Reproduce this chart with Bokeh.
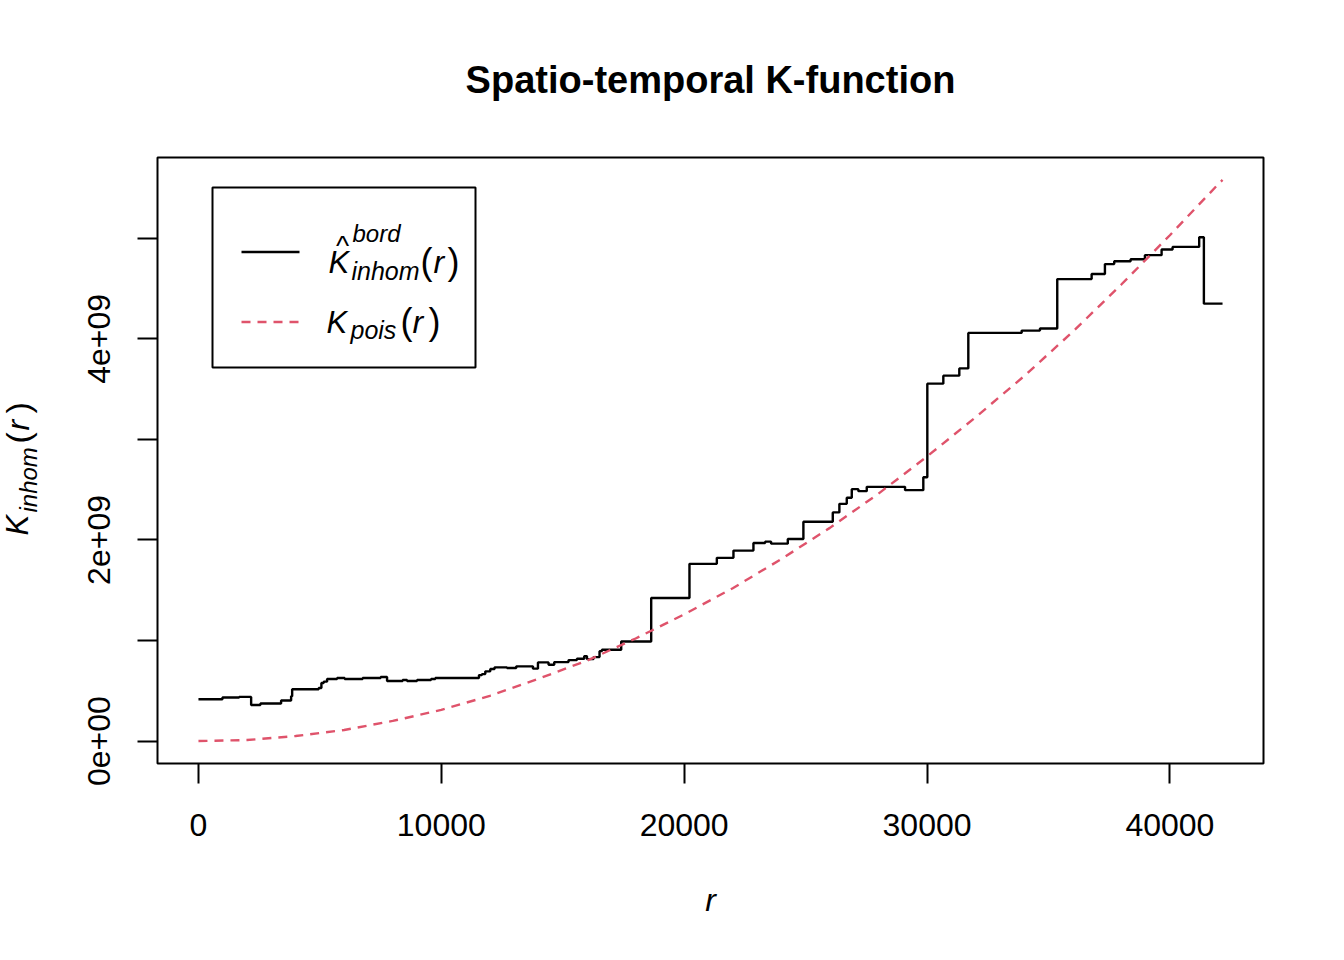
import math
from bokeh.plotting import figure
from bokeh.models import Range1d, FixedTicker, Label, BoxAnnotation, Arrow, LinearAxis
from bokeh.embed import file_html
from bokeh.resources import INLINE

# ---- data ----
# border-corrected inhomogeneous K estimate (step function), K in units of 1e9
r_bord = [0, 988, 1675, 2169, 2551, 3403, 3815, 3858, 4951, 5062,
          5156, 5296, 5708, 6021, 6761, 7502, 7766, 8408, 8589, 9000,
          9576, 9753, 11551, 11675, 11811, 12016, 12193, 12704, 13086, 13774,
          13979, 14416, 14650, 15239, 15584, 15885, 15996, 16268, 16515, 16613,
          17407, 18642, 20218, 21345, 22029, 22852, 23333, 23580, 24267, 24909,
          26119, 26391, 26695, 26901, 27173, 27518, 29095, 29847, 30012, 30671,
          31329, 31700, 33897, 34650, 35362, 36778, 37325, 37708, 38383, 38971,
          39659, 40111, 41206, 41400, 42168]
k_bord = [0.416, 0.433, 0.439, 0.359, 0.373, 0.403, 0.446, 0.515, 0.528, 0.577,
          0.591, 0.617, 0.627, 0.617, 0.627, 0.637, 0.597, 0.607, 0.597, 0.607,
          0.617, 0.627, 0.656, 0.666, 0.693, 0.716, 0.733, 0.726, 0.743, 0.720,
          0.782, 0.759, 0.785, 0.805, 0.819, 0.845, 0.815, 0.835, 0.894, 0.908,
          0.990, 1.423, 1.762, 1.822, 1.894, 1.970, 1.983, 1.963, 2.010, 2.181,
          2.274, 2.359, 2.419, 2.505, 2.485, 2.528, 2.495, 2.624, 3.554, 3.634,
          3.706, 4.059, 4.082, 4.102, 4.594, 4.644, 4.743, 4.772, 4.792, 4.832,
          4.888, 4.914, 5.010, 4.350, 4.350]

# theoretical Poisson K (dashed curve), K in units of 1e9
r_pois = [0, 2000, 4000, 6000, 8000, 10000, 12000, 14000, 16000, 18000,
          20000, 22000, 24000, 26000, 28000, 30000, 32000, 34000, 36000, 38000,
          40000, 42000, 42168]
k_pois = [0.00, 0.01, 0.05, 0.11, 0.20, 0.31, 0.45, 0.62, 0.80, 1.02,
          1.26, 1.52, 1.81, 2.12, 2.46, 2.83, 3.22, 3.63, 4.07, 4.54,
          5.03, 5.54, 5.58]

x_ticks = [0, 10000, 20000, 30000, 40000]
x_tick_labels = ["0", "10000", "20000", "30000", "40000"]
y_ticks = [0, 1, 2, 3, 4, 5]
y_tick_labels = ["0e+00", "", "2e+09", "", "4e+09", ""]

title_text = "Spatio-temporal K-function"

# ---- layout (R-style plot region with 4% padding of the data range) ----
FONT = "Liberation Sans"
RED = "#DF536B"
W, H = 1328, 944
BL, BR, BT, BB = 157, 1263, 157, 763      # plot box in canvas pixels
LW = 2.4

xmin, xmax = min(r_bord + r_pois), max(r_bord + r_pois)
ymin, ymax = min(k_bord + k_pois), max(k_bord + k_pois)
ux0, ux1 = xmin - 0.04 * (xmax - xmin), xmax + 0.04 * (xmax - xmin)
uy0, uy1 = ymin - 0.04 * (ymax - ymin), ymax + 0.04 * (ymax - ymin)
sx = (ux1 - ux0) / (BR - BL)
sy = (uy1 - uy0) / (BB - BT)

p = figure(width=W, height=H,
           x_range=Range1d(ux0 - BL * sx, ux1 + (W - BR) * sx),
           y_range=Range1d(uy0 - (H - BB) * sy, uy1 + BT * sy),
           output_backend="svg", toolbar_location=None,
           x_axis_location=None, y_axis_location=None, min_border=0)
p.title.visible = False
p.background_fill_color = "white"
p.border_fill_color = "white"
p.outline_line_color = None
p.xgrid.visible = False
p.ygrid.visible = False

xaxis = LinearAxis(fixed_location=uy0)
yaxis = LinearAxis(fixed_location=ux0)
p.add_layout(xaxis, "below")
p.add_layout(yaxis, "left")
for ax, ticks, labels in ((xaxis, x_ticks, x_tick_labels), (yaxis, y_ticks, y_tick_labels)):
    ax.ticker = FixedTicker(ticks=ticks)
    ax.major_label_overrides = {t: l for t, l in zip(ticks, labels)}
    ax.axis_line_color = None
    ax.major_tick_in = 0
    ax.major_tick_out = 20
    ax.major_tick_line_width = 2
    ax.major_tick_line_color = "black"
    ax.minor_tick_line_color = None
    ax.major_label_text_font = FONT
    ax.major_label_text_font_size = "32px"
    ax.major_label_text_color = "black"
xaxis.major_label_standoff = 30
yaxis.major_label_standoff = 27
yaxis.major_label_orientation = "vertical"

# plot box
p.add_layout(BoxAnnotation(left=ux0, right=ux1, bottom=uy0, top=uy1,
                           fill_alpha=0, line_color="black", line_alpha=1,
                           line_width=2))

# ---- data lines ----
p.step(r_bord, k_bord, mode="after", line_color="black", line_width=LW)
p.line(r_pois, k_pois, line_color=RED, line_width=LW, line_dash="9 7")

# ---- texts (positions in canvas pixels, y from top, at the baseline) ----
SHIFT = 0.33   # baseline correction, in em


def lab(text, X, Y, size, style="normal", align="left", angle=0.0):
    fs = float(size[:-2])
    if angle:
        X = X - SHIFT * fs
    else:
        Y = Y - SHIFT * fs
    p.add_layout(Label(text=text, x=X, y=H - Y, x_units="screen", y_units="screen",
                       text_font=FONT, text_font_size=size, text_font_style=style,
                       text_align=align, text_baseline="alphabetic",
                       text_color="black", angle=angle))


# title
lab(title_text, (BL + BR) / 2, 92, "38px", "bold", "center")
# x axis label
lab("r", (BL + BR) / 2, 910, "32px", "italic", "center")
# y axis label  K_inhom(r), rotated
A = math.pi / 2
lab("K", 27, 535, "31px", "italic", angle=A)
lab("inhom", 36, 512, "24px", "italic", angle=A)
lab("(", 29, 443, "34px", angle=A)
lab("r", 28, 430, "32px", "italic", angle=A)
lab(")", 29, 413, "34px", angle=A)

# ---- legend ----
p.add_layout(BoxAnnotation(left=212, right=475, bottom=H - 367, top=H - 187,
                           left_units="screen", right_units="screen",
                           top_units="screen", bottom_units="screen",
                           fill_alpha=0, line_color="black", line_alpha=1,
                           line_width=2))
p.add_layout(Arrow(end=None, x_start=241, x_end=299,
                   y_start=H - 251.5, y_end=H - 251.5,
                   start_units="screen", end_units="screen",
                   line_color="black", line_width=LW))
p.add_layout(Arrow(end=None, x_start=241, x_end=299,
                   y_start=H - 321.5, y_end=H - 321.5,
                   start_units="screen", end_units="screen",
                   line_color=RED, line_width=LW, line_dash="9 7"))
# entry 1: K-hat ^bord _inhom (r)
lab("K", 328, 272, "31px", "italic")
lab("^", 342, 254, "28px", "normal", "center")
lab("bord", 352, 241, "24px", "italic")
lab("inhom", 351, 279, "25px", "italic")
lab("(", 420, 273, "36px")
lab("r", 433, 272, "32px", "italic")
lab(")", 447, 273, "36px")
# entry 2: K_pois(r)
lab("K", 326, 332, "31px", "italic")
lab("pois", 350, 338, "25px", "italic")
lab("(", 400, 333, "36px")
lab("r", 412, 332, "32px", "italic")
lab(")", 428, 333, "36px")

open("out.html", "w").write(file_html(p, INLINE))
